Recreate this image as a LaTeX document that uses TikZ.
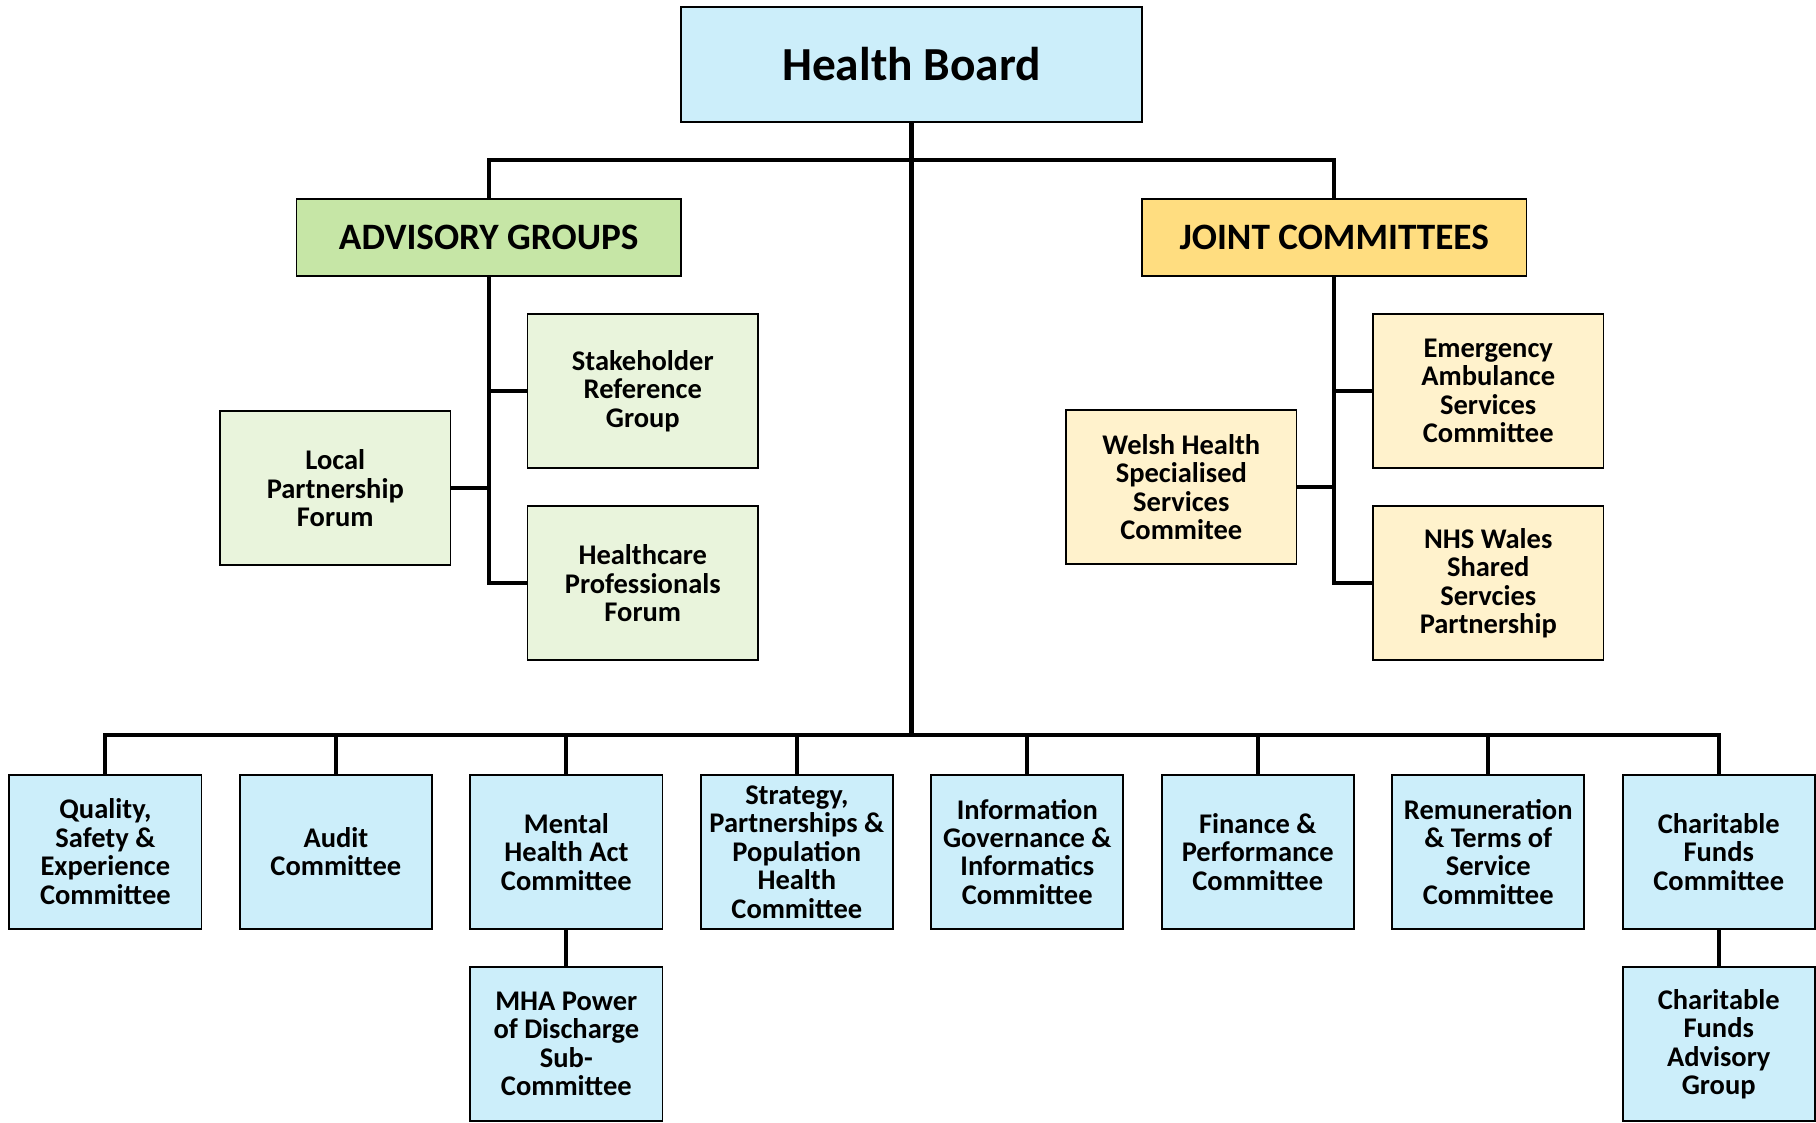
\documentclass[tikz,border=0pt]{standalone}
\usepackage{fontspec}
\setmainfont{Carlito}
\definecolor{boardblue}{RGB}{204,238,250}
\definecolor{advgreen}{RGB}{198,230,166}
\definecolor{advlight}{RGB}{233,244,220}
\definecolor{jointyel}{RGB}{255,221,128}
\definecolor{jointlight}{RGB}{255,242,204}

\tikzset{
  box/.style={draw=black, line width=0.9pt, inner sep=0pt, align=center,
    font=\fontsize{14}{14}\selectfont\bfseries},
  board/.style={box, fill=boardblue, minimum width=7.96cm, minimum height=1.98cm,
    font=\fontsize{23.3}{23.3}\selectfont\bfseries},
  head/.style={box, minimum width=6.64cm, minimum height=1.32cm,
    font=\fontsize{18.3}{18.3}\selectfont\bfseries},
  subbox/.style={box, minimum width=3.98cm, minimum height=2.66cm},
  combox/.style={box, fill=boardblue, minimum width=3.32cm, minimum height=2.66cm},
  link/.style={line width=2pt}
}

\begin{document}
\begin{tikzpicture}[x=0.02cm, y=-0.02cm]
  \useasboundingbox (0,0) rectangle (1568,969);

  % top of the tree
  \node[board] (hb) at (787,55.5) {Health Board};
  \coordinate (topbar) at (787,138);
  \coordinate (botbar) at (787,635);

  % advisory groups
  \node[head, fill=advgreen] (adv) at (422,205) {ADVISORY GROUPS};
  \node[subbox, fill=advlight] (srg) at (555,337.5) {Stakeholder\\Reference\\Group};
  \node[subbox, fill=advlight] (hpf) at (555,503.5) {Healthcare\\Professionals\\Forum};
  \node[subbox, fill=advlight] (lpf) at (289.5,421.5) {Local\\Partnership\\Forum};

  % joint committees
  \node[head, fill=jointyel] (jc) at (1152,205) {JOINT COMMITTEES};
  \node[subbox, fill=jointlight] (eas) at (1285,337.5) {Emergency\\Ambulance\\Services\\Committee};
  \node[subbox, fill=jointlight] (nhs) at (1285,503.5) {NHS Wales\\Shared\\Servcies\\Partnership};
  \node[subbox, fill=jointlight] (whs) at (1020,420.5) {Welsh Health\\Specialised\\Services\\Commitee};

  % committees
  \node[combox] (c1) at (91,735.5) {Quality,\\Safety \&\\Experience\\Committee};
  \node[combox] (c2) at (290,735.5) {Audit\\Committee};
  \node[combox] (c3) at (489,735.5) {Mental\\Health Act\\Committee};
  \node[combox] (c4) at (688,735.5) {Strategy,\\Partnerships \&\\Population\\Health\\Committee};
  \node[combox] (c5) at (887,735.5) {Information\\Governance \&\\Informatics\\Committee};
  \node[combox] (c6) at (1086,735.5) {Finance \&\\Performance\\Committee};
  \node[combox] (c7) at (1285,735.5) {Remuneration\\\& Terms of\\Service\\Committee};
  \node[combox] (c8) at (1484,735.5) {Charitable\\Funds\\Committee};
  \node[combox] (mha) at (489,901.5) {MHA Power\\of Discharge\\Sub-\\Committee};
  \node[combox] (cfa) at (1484,901.5) {Charitable\\Funds\\Advisory\\Group};

  % connectors
  \draw[link] (hb.south) -- (hb.south |- botbar);
  \draw[link] (adv.north) |- (topbar) -| (jc.north);
  \draw[link] (adv.south) |- (hpf.west);
  \draw[link] (srg.west) -- (srg.west -| adv.south);
  \draw[link] (lpf.east) -- (lpf.east -| adv.south);
  \draw[link] (jc.south) |- (nhs.west);
  \draw[link] (eas.west) -- (eas.west -| jc.south);
  \draw[link] (whs.east) -- (whs.east -| jc.south);
  \draw[link] (c1.north) |- (botbar) -| (c8.north);
  \foreach \i in {2,...,7}
    \draw[link] (c\i.north) -- (c\i.north |- botbar);
  \draw[link] (c3.south) -- (mha.north);
  \draw[link] (c8.south) -- (cfa.north);
\end{tikzpicture}
\end{document}
